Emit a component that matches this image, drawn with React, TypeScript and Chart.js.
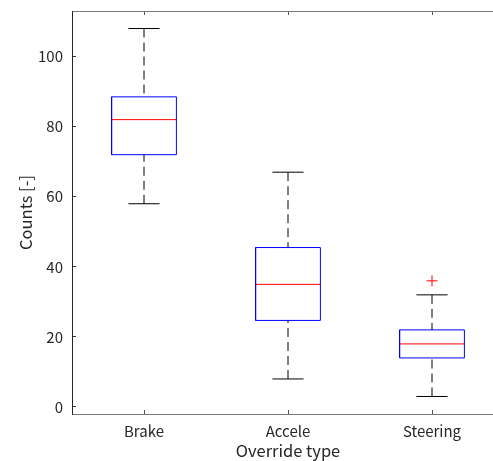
import React, { useEffect, useRef } from "react";
import { Chart, registerables } from "chart.js";

Chart.register(...registerables);

const categories = ["Brake", "Accele", "Steering"];
const whiskerLow = [58, 8, 3];
const q1 = [72, 24.7, 14];
const median = [82, 35, 18];
const q3 = [88.5, 45.5, 22];
const whiskerHigh = [108, 67, 32];
const outlierCategory = [3];
const outlierValue = [36];
const yTicks = [0, 20, 40, 60, 80, 100];

const BOX_HALF = 0.225;
const CAP_HALF = 0.108;
const FONT = "'Noto Sans CJK JP', 'Noto Sans', sans-serif";
const TEXT = "#262626";

type P = { x: number; y: number | null };

function buildBoxes(): P[] {
  const pts: P[] = [];
  categories.forEach((_, i) => {
    const c = i + 1;
    pts.push({ x: c - BOX_HALF, y: q1[i] });
    pts.push({ x: c + BOX_HALF, y: q1[i] });
    pts.push({ x: c + BOX_HALF, y: q3[i] });
    pts.push({ x: c - BOX_HALF, y: q3[i] });
    pts.push({ x: c - BOX_HALF, y: q1[i] });
    pts.push({ x: c, y: null });
  });
  return pts;
}

function buildWhiskers(): P[] {
  const pts: P[] = [];
  categories.forEach((_, i) => {
    const c = i + 1;
    pts.push({ x: c, y: whiskerHigh[i] });
    pts.push({ x: c, y: q3[i] });
    pts.push({ x: c, y: null });
    pts.push({ x: c, y: whiskerLow[i] });
    pts.push({ x: c, y: q1[i] });
    pts.push({ x: c, y: null });
  });
  return pts;
}

function buildCaps(): P[] {
  const pts: P[] = [];
  categories.forEach((_, i) => {
    const c = i + 1;
    [whiskerHigh[i], whiskerLow[i]].forEach((v) => {
      pts.push({ x: c - CAP_HALF, y: v });
      pts.push({ x: c + CAP_HALF, y: v });
      pts.push({ x: c, y: null });
    });
  });
  return pts;
}

function buildMedians(): P[] {
  const pts: P[] = [];
  categories.forEach((_, i) => {
    const c = i + 1;
    pts.push({ x: c - BOX_HALF, y: median[i] });
    pts.push({ x: c + BOX_HALF, y: median[i] });
    pts.push({ x: c, y: null });
  });
  return pts;
}

function zeroPad(s: any) {
  s.paddingTop = 0;
  s.paddingBottom = 0;
  s.paddingLeft = 0;
  s.paddingRight = 0;
}

export default function App() {
  const ref = useRef<HTMLCanvasElement | null>(null);

  useEffect(() => {
    if (!ref.current) return;
    const chart = new Chart(ref.current, {
      type: "scatter",
      data: {
        datasets: [
          {
            data: buildWhiskers(),
            showLine: true,
            borderColor: "#000000",
            borderWidth: 1,
            borderDash: [9, 5],
            pointRadius: 0,
            pointHoverRadius: 0,
            spanGaps: false,
          },
          {
            data: buildCaps(),
            showLine: true,
            borderColor: "#000000",
            borderWidth: 1,
            pointRadius: 0,
            pointHoverRadius: 0,
            spanGaps: false,
          },
          {
            data: buildBoxes(),
            showLine: true,
            borderColor: "#0000ff",
            borderWidth: 1,
            pointRadius: 0,
            pointHoverRadius: 0,
            spanGaps: false,
          },
          {
            data: buildMedians(),
            showLine: true,
            borderColor: "#ff0000",
            borderWidth: 1,
            pointRadius: 0,
            pointHoverRadius: 0,
            spanGaps: false,
          },
          {
            data: outlierCategory.map((c, i) => ({ x: c, y: outlierValue[i] })),
            showLine: false,
            pointStyle: "cross",
            pointRadius: 5.5,
            pointHoverRadius: 5.5,
            pointBorderColor: "#ff0000",
            pointBorderWidth: 1,
          },
        ],
      },
      options: {
        animation: false,
        responsive: false,
        devicePixelRatio: 1,
        layout: { autoPadding: false, padding: { top: 11, left: 0, right: 0, bottom: 0 } },
        plugins: { legend: { display: false }, tooltip: { enabled: false } },
        scales: {
          x: {
            type: "linear",
            position: "bottom",
            min: 0.5,
            max: 3.5,
            afterBuildTicks: (s: any) => {
              s.ticks = categories.map((_, i) => ({ value: i + 1 }));
            },
            afterFit: (s: any) => {
              s.height = 47;
              zeroPad(s);
            },
            ticks: {
              callback: (v: any) => categories[Math.round(Number(v)) - 1] ?? "",
              font: { family: FONT, size: 15 },
              color: TEXT,
              padding: 12,
              maxRotation: 0,
              autoSkip: false,
            },
            grid: {
              drawOnChartArea: false,
              tickLength: -4,
              tickColor: "#555555",
            },
            border: { color: "#7a7a7a", width: 1 },
            title: {
              display: true,
              text: "Override type",
              font: { family: FONT, size: 16.5 },
              color: TEXT,
              padding: { top: 0, bottom: 0 },
            },
          },
          x2: {
            type: "linear",
            position: "top",
            min: 0.5,
            max: 3.5,
            afterBuildTicks: (s: any) => {
              s.ticks = categories.map((_, i) => ({ value: i + 1 }));
            },
            afterFit: (s: any) => {
              s.height = 0;
              zeroPad(s);
            },
            ticks: { display: false },
            grid: {
              drawOnChartArea: false,
              tickLength: -4,
              tickColor: "#555555",
            },
            border: { color: "#7a7a7a", width: 1 },
          },
          y: {
            type: "linear",
            position: "left",
            min: -2,
            max: 113,
            afterBuildTicks: (s: any) => {
              s.ticks = yTicks.map((v) => ({ value: v }));
            },
            afterFit: (s: any) => {
              s.width = 72;
              zeroPad(s);
            },
            ticks: {
              font: { family: FONT, size: 15 },
              color: TEXT,
              padding: 13,
            },
            grid: {
              drawOnChartArea: false,
              tickLength: -4,
              tickColor: "#333333",
            },
            border: { color: "#262626", width: 1 },
            title: {
              display: true,
              text: "Counts [-]",
              font: { family: FONT, size: 16.5 },
              color: TEXT,
              padding: { top: 16, bottom: 0 },
            },
          },
        },
      },
    });
    return () => chart.destroy();
  }, []);

  return (
    <div style={{ position: "fixed", left: 0, top: 0, width: 493, height: 461, overflow: "hidden", background: "#fff" }}>
      <canvas ref={ref} width={504} height={461} />
    </div>
  );
}
